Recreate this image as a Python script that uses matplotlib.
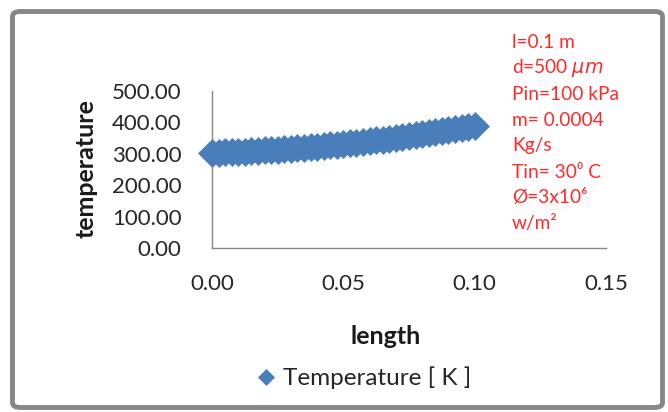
import matplotlib
matplotlib.use("Agg")
import matplotlib.pyplot as plt
from matplotlib.patches import FancyBboxPatch

plt.rcParams['font.family'] = ['Lato', 'DejaVu Sans']

length = [0.0000, 0.0025, 0.0050, 0.0075, 0.0100, 0.0125, 0.0150, 0.0175, 0.0200, 0.0225,
          0.0250, 0.0275, 0.0300, 0.0325, 0.0350, 0.0375, 0.0400, 0.0425, 0.0450, 0.0475,
          0.0500, 0.0525, 0.0550, 0.0575, 0.0600, 0.0625, 0.0650, 0.0675, 0.0700, 0.0725,
          0.0750, 0.0775, 0.0800, 0.0825, 0.0850, 0.0875, 0.0900, 0.0925, 0.0950, 0.0975,
          0.1000]
temperature = [303.0, 303.7, 304.5, 305.3, 306.2, 307.2, 308.3, 309.4, 310.6, 311.9,
               313.3, 314.7, 316.2, 317.8, 319.5, 321.2, 323.0, 324.9, 326.9, 328.9,
               331.0, 333.2, 335.5, 337.8, 340.2, 342.7, 345.3, 347.9, 350.6, 353.4,
               356.3, 359.2, 362.2, 365.3, 368.5, 371.7, 375.0, 378.4, 381.9, 385.4,
               389.0]
x_ticks = [0.00, 0.05, 0.10, 0.15]
y_ticks = [0, 100, 200, 300, 400, 500]
series_label = "Temperature [ K ]"
notes = ["l=0.1 m", "d=500 $\\mu m$", "Pin=100 kPa", "m= 0.0004", "Kg/s",
         "Tin= 30\u2070 C", "\u00d8=3x10\u2076", "w/m\u00b2"]

W, H = 668, 412
fig = plt.figure(figsize=(W / 100, H / 100), dpi=100)

# outer frame
frame = FancyBboxPatch((12.5 / W, 4.5 / H), (662.5 - 12.5) / W, (404 - 8) / H,
                       boxstyle="round,pad=0,rounding_size=0.012",
                       transform=fig.transFigure, facecolor='white',
                       edgecolor='#878787', linewidth=3.5, zorder=-5)
fig.patches.append(frame)

ax = fig.add_axes([212 / W, (H - 248) / H, (606 - 212) / W, (248 - 91) / H])
ax.set_zorder(2)
ax.patch.set_alpha(0)
color = '#4a7ebb'
ax.plot(length, temperature, linestyle='none', marker='D', markersize=14,
        color=color, markeredgecolor=color, markeredgewidth=0.5,
        clip_on=False, zorder=3, label=series_label)

ax.set_xlim(0, 0.15)
ax.set_ylim(0, 500)
ax.set_xticks(x_ticks)
ax.set_xticklabels([f"{v:.2f}" for v in x_ticks])
ax.set_yticks(y_ticks)
ax.set_yticklabels([f"{v:.2f}" for v in y_ticks])
ax.tick_params(axis='both', length=0, labelsize=16, labelcolor='#262626')
ax.tick_params(axis='y', pad=22)
ax.tick_params(axis='x', pad=19)
for s in ['top', 'right']:
    ax.spines[s].set_visible(False)
for s in ['left', 'bottom']:
    ax.spines[s].set_color('#868686')
    ax.spines[s].set_linewidth(1.0)

fig.text(386 / W, 1 - 336 / H, "length", ha='center', va='center',
         fontsize=18, fontweight='bold', color='#1a1a1a')
fig.text(86 / W, 1 - 169 / H, "temperature", ha='center', va='center',
         rotation=90, fontsize=18, fontweight='bold', color='#1a1a1a')

for i, line in enumerate(notes):
    fig.text(512 / W, 1 - (42 + 26 * i) / H, line, ha='left', va='center',
             fontsize=13.8, color='#ff2a2a')

fig.legend(loc='center left', bbox_to_anchor=(255 / W, 1 - 378 / H), frameon=False,
           fontsize=17.5, markerscale=0.55, handlelength=0.9, handletextpad=0.25,
           borderpad=0, borderaxespad=0, labelcolor='#262626')

fig.savefig("out.png", dpi=100)
